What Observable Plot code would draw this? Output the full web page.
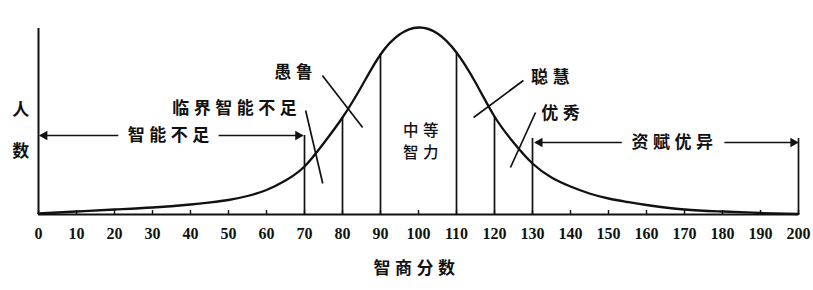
<!DOCTYPE html>
<html><head><meta charset="utf-8">
<script src="https://cdn.jsdelivr.net/npm/d3@7"></script>
<script src="https://cdn.jsdelivr.net/npm/@observablehq/plot@0.6"></script>
<style>
html,body{margin:0;padding:0;background:#fff;}
</style></head><body><div id="chart"></div>
<script>
// IQ score (x) and relative number of people (y)
const iq =     [0, 10, 20, 30, 40, 45, 50,   55,   60, 65, 70, 75, 80, 85, 90, 95, 100, 105, 110, 115, 120, 125, 130, 135, 140, 145, 150,  155, 160, 170, 180, 190, 200];
const people = [1,  3,  5,  7, 10, 12, 14.5, 18.5, 24.5, 34, 48, 71, 97,128,160,180, 187, 181, 162, 132,  98,  72,  51,  37,  28,  21,  16, 12.5, 9.5,   5,   3, 1.5, 0.5];
const tickValues = [0, 10, 20, 30, 40, 50, 60, 70, 80, 90, 100, 110, 120, 130, 140, 150, 160, 170, 180, 190, 200];
const tickLabels = ["0","10","20","30","40","50","60","70","80","90","100","110","120","130","140","150","160","170","180","190","200"];
const curveBounds = [80, 90, 110, 120];
const bracketBounds = [70, 130, 200];
const categories = ["智能不足", "临界智能不足", "愚鲁", "中等", "智力", "聪慧", "优秀", "资赋优异"];
const yLabel = ["人", "数"];
const xTitle = "智商分数";

const curve = iq.map((x, i) => ({x, y: people[i]}));
const at = x => people[iq.indexOf(x)];

const cjk = "Noto Sans CJK SC";
const T = (t, x, y, extra = {}) => Plot.text([t], {x: () => x, y: () => y, text: d => d, fontFamily: cjk, fontSize: 17, fontWeight: 700, fill: "#111", ...extra});

const svg = Plot.plot({
  width: 813, height: 290,
  marginLeft: 38, marginRight: 15, marginTop: 27, marginBottom: 76,
  x: {domain: [0, 200], axis: null},
  y: {domain: [0, 187], axis: null},
  marks: [
    Plot.ruleY([0], {x1: 0, x2: 200, stroke: "#111", strokeWidth: 2}),
    Plot.ruleX([0], {y1: 0, y2: 186, stroke: "#111", strokeWidth: 2}),
    Plot.ruleX(tickValues, {x: d => d, y1: 0, y2: 4, stroke: "#111", strokeWidth: 1.4}),
    Plot.text(tickValues, {x: d => d, y: -19, text: (d, i) => tickLabels[i], fontFamily: "Liberation Serif", fontSize: 16, fontWeight: "bold", fill: "#111"}),
    Plot.line(curve, {x: "x", y: "y", curve: "natural", stroke: "#111", strokeWidth: 2.3}),
    Plot.ruleX(curveBounds, {x: d => d, y1: 0, y2: d => at(d), stroke: "#111", strokeWidth: 1.7}),
    Plot.ruleX(bracketBounds, {x: d => d, y1: 0, y2: d => d === 70 ? 79 : 76, stroke: "#111", strokeWidth: 1.7}),
    // bracket arrows
    Plot.link([[0.5, 21], [47.4, 69.5]], {x1: d => d[0], x2: d => d[1], y1: 79, y2: 79, stroke: "#111", strokeWidth: 1.7}),
    Plot.link([[130.8, 153.5], [180.5, 199.5]], {x1: d => d[0], x2: d => d[1], y1: 72, y2: 72, stroke: "#111", strokeWidth: 1.7}),
    Plot.dot([[1.6, 79, -90], [68.3, 79, 90], [131.9, 72, -90], [198.6, 72, 90]], {x: d => d[0], y: d => d[1], rotate: d => d[2], symbol: "triangle", r: 3.6, fill: "#111", stroke: "none"}),
    // pointers
    Plot.link([[70.3, 104, 74.8, 31], [74.7, 139, 85.3, 87], [127.6, 134, 114.5, 97], [130.8, 102, 124.2, 47]], {x1: d => d[0], y1: d => d[1], x2: d => d[2], y2: d => d[3], stroke: "#111", strokeWidth: 1.7}),
    // labels
    T(categories[0], 34.2, 79),
    T(categories[1], 51.6, 106),
    T(categories[2], 67.1, 142),
    T(categories[3], 100.6, 83, {fontWeight: 500, fontSize: 15.5}),
    T(categories[4], 100.6, 61, {fontWeight: 500, fontSize: 15.5}),
    T(categories[5], 134.7, 137),
    T(categories[6], 137.4, 101),
    T(categories[7], 166.8, 72),
    T(yLabel[0], -4.7, 104),
    T(yLabel[1], -4.7, 63),
    T(xTitle, 98.9, -54)
  ]
});
d3.select(svg).selectAll("text")
  .filter(function() { return /[\u4e00-\u9fff]/.test(this.textContent) && this.textContent.length > 1; })
  .style("letter-spacing", "4.5px").attr("dx", 2.25);
document.getElementById("chart").appendChild(svg);
</script></body></html>
